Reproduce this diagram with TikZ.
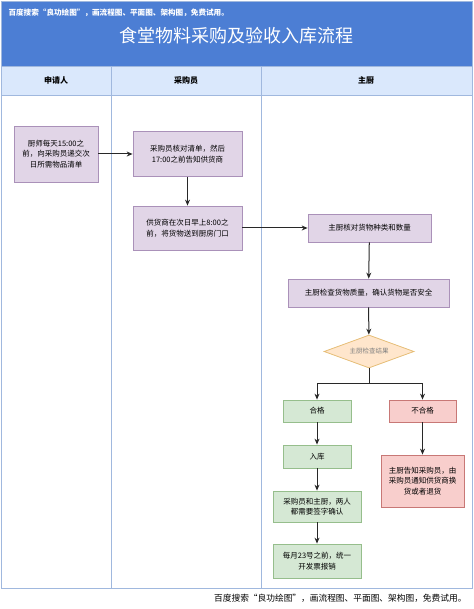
\documentclass[tikz,border=0pt]{standalone}
\usepackage{fontspec}
\setmainfont{Noto Sans CJK SC}
\usetikzlibrary{arrows.meta,shapes.geometric}

\definecolor{headblue}{RGB}{76,126,212}
\definecolor{lanefill}{RGB}{218,232,252}
\definecolor{laneline}{RGB}{160,184,222}
\definecolor{purplefill}{RGB}{225,213,231}
\definecolor{purpleline}{RGB}{170,145,185}
\definecolor{greenfill}{RGB}{213,232,212}
\definecolor{greenline}{RGB}{150,190,140}
\definecolor{redfill}{RGB}{248,206,204}
\definecolor{redline}{RGB}{200,120,118}
\definecolor{orangefill}{RGB}{255,230,204}
\definecolor{orangeline}{RGB}{230,190,120}
\definecolor{flowline}{RGB}{40,40,40}

\tikzset{
  box/.style={draw, line width=0.8pt, align=center, inner sep=2pt,
    font=\fontsize{7.5}{10.5}\selectfont},
  purplebox/.style={box, fill=purplefill, draw=purpleline},
  greenbox/.style={box, fill=greenfill, draw=greenline},
  redbox/.style={box, fill=redfill, draw=redline},
  decision/.style={diamond, aspect=2.7, draw=orangeline, fill=orangefill,
    line width=0.8pt, inner sep=1pt, text=gray,
    font=\fontsize{6.5}{8}\selectfont},
  flow/.style={draw=flowline, line width=1pt, -{Stealth[length=6pt,width=5pt]}},
  lanetitle/.style={font=\bfseries\fontsize{8}{9}\selectfont},
  watermark/.style={font=\bfseries\fontsize{7.6}{9}\selectfont}
}

\begin{document}
\begin{tikzpicture}[x=1pt,y=-1pt]
  \useasboundingbox (0,0) rectangle (473,609);
  % pool and lanes
  \fill[headblue] (1,1) rectangle (472,66);
  \fill[lanefill] (1,66) rectangle (472,95);
  \draw[laneline, line width=0.8pt] (1,1) rectangle (472,588);
  \draw[laneline, line width=0.8pt] (1,66) -- (472,66);
  \draw[laneline, line width=0.8pt] (1,95) -- (472,95);
  \draw[laneline, line width=0.8pt] (111,66) -- (111,588);
  \draw[laneline, line width=0.8pt] (261,66) -- (261,588);
  \node[watermark, text=white, anchor=west] (topmark) at (5,13) {百度搜索“良功绘图”，画流程图、平面图、架构图，免费试用。};
  \node[text=white, font=\fontsize{18}{20}\selectfont] (title) at (236,36) {食堂物料采购及验收入库流程};
  \node[lanetitle] (applicant) at (56,80.5) {申请人};
  \node[lanetitle] (buyer) at (186,80.5) {采购员};
  \node[lanetitle] (chef) at (366,80.5) {主厨};

  % steps
  \node[purplebox, minimum width=84pt, minimum height=56pt] (apply) at (56,154)
    {厨师每天15:00之\\前，向采购员递交次\\日所需物品清单};
  \node[purplebox, minimum width=109pt, minimum height=45pt] (check) at (187.5,154)
    {采购员核对清单，然后\\17:00之前告知供货商};
  \node[purplebox, minimum width=109pt, minimum height=44pt] (deliver) at (187.5,228)
    {供货商在次日早上8:00之\\前，将货物送到厨房门口};
  \node[purplebox, minimum width=123pt, minimum height=28pt] (count) at (369.5,228)
    {主厨核对货物种类和数量};
  \node[purplebox, minimum width=161pt, minimum height=28pt] (inspect) at (368.5,293)
    {主厨检查货物质量，确认货物是否安全};
  \node[decision, minimum width=90pt, minimum height=33pt] (result) at (369,351.5)
    {主厨检查结果};
  \coordinate (split) at (369,383);
  \node[greenbox, minimum width=68pt, minimum height=22pt] (pass) at (317,411) {合格};
  \node[redbox, minimum width=67pt, minimum height=22pt] (fail) at (422.5,411) {不合格};
  \node[greenbox, minimum width=68pt, minimum height=23pt] (store) at (317,456.5) {入库};
  \node[greenbox, minimum width=88pt, minimum height=31pt] (sign) at (317,506.5)
    {采购员和主厨，两人\\都需要签字确认};
  \node[greenbox, minimum width=88pt, minimum height=34pt] (invoice) at (317,561)
    {每月23号之前，统一\\开发票报销};
  \node[redbox, minimum width=83pt, minimum height=52pt] (notify) at (422.5,481)
    {主厨告知采购员，由\\采购员通知供货商换\\货或者退货};

  % connectors
  \draw[flow] (apply) -- (check);
  \draw[flow] (check) -- (deliver);
  \draw[flow] (deliver) -- (count);
  \draw[flow] (count) -- (inspect);
  \draw[flow] (inspect) -- (result);
  \draw[draw=flowline, line width=1pt] (result) -- (split);
  \draw[flow] (split) -| (pass);
  \draw[flow] (split) -| (fail);
  \draw[flow] (pass) -- (store);
  \draw[flow] (store) -- (sign);
  \draw[flow] (sign) -- (invoice);
  \draw[flow] (fail) -- (notify);

  \node[watermark, font=\mdseries\fontsize{8.7}{9}\selectfont, anchor=east] (footmark) at (470,598) {百度搜索“良功绘图”，画流程图、平面图、架构图，免费试用。};
\end{tikzpicture}
\end{document}
